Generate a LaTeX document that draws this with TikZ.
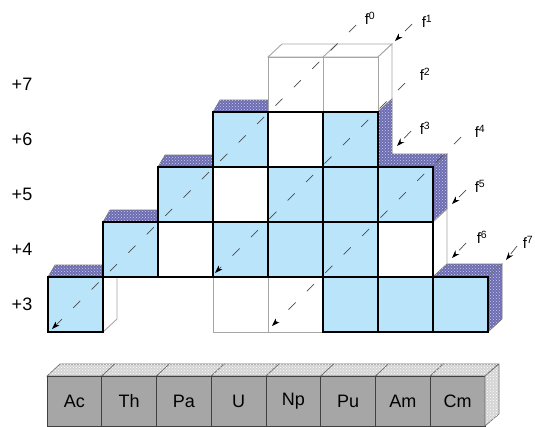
\documentclass[tikz,border=0pt]{standalone}
\usepackage{fontspec}
\setmainfont{Liberation Sans}
\usetikzlibrary{arrows.meta, patterns}
\definecolor{cellblue}{RGB}{186,228,250}
\definecolor{slabblue}{RGB}{108,108,178}
\definecolor{slabdot}{RGB}{205,205,240}
\definecolor{stripgray}{RGB}{166,166,166}
\definecolor{striptop}{RGB}{212,212,212}

\begin{document}
\begin{tikzpicture}[
        x=1pt,
        y=-1pt,
        font=\fontsize{18}{21}\selectfont,
        cell/.style={minimum size=55pt, inner sep=0pt, outer sep=0pt},
        bluecell/.style={cell, draw=black, line width=1.4pt, fill=cellblue},
        whitecell/.style={cell, draw=black, line width=1.4pt, fill=white},
        ghostcell/.style={cell, draw=black!35, line width=0.9pt, fill=white},
        slab/.style={draw=black!55, line width=0.6pt, fill=slabblue,
            postaction={pattern=crosshatch dots, pattern color=slabdot}},
        ghostface/.style={draw=black!35, line width=0.9pt, fill=white},
        elem/.style={draw=black!75, line width=0.8pt, fill=stripgray,
            minimum width=54.75pt, minimum height=50pt, inner sep=0pt, outer sep=0pt},
        stripface/.style={draw=black!60, line width=0.6pt, fill=striptop,
            postaction={pattern=crosshatch dots, pattern color=white}},
        flabel/.style={font=\fontsize{15}{17}\selectfont, inner sep=1pt},
        orbit/.style={draw=black!70, line width=0.7pt, dash pattern=on 10pt off 16pt,
            -{Stealth[length=8pt, width=5.5pt, black]}}
    ]
        \useasboundingbox (0,0) rectangle (535,426);
        \clip (0,0) rectangle (535,426);

        % element strip
        \foreach \el [count=\i from 0] in {Ac,Th,Pa,U,Np,Pu,Am,Cm} {
            \pgfmathsetmacro\xa{47+54.75*\i}
            \filldraw[stripface] (\xa,376) -- ++(54.75,0) -- ++(13,-12) -- ++(-54.75,0) -- cycle;
            \node[elem] (\el) at (\xa+27.375,401) {\el};
        }
        \filldraw[stripface] (485,376) -- (499,364) -- (499,414) -- (485,426) -- cycle;

        % oxidation states
        \foreach \r in {3,...,7}
            \node (ox\r) at (22,{304.5-55*(\r-3)}) {+\r};

        % faces behind the cells
        \foreach \c/\r in {0/3,1/4,2/5,3/6}
            \filldraw[slab] ({48+55*\c},{277-55*(\r-3)}) -- ++(55,0) -- ++(7,-12) -- ++(-55,0) -- cycle;
        \filldraw[ghostface] (103,277) -- (117,264) -- (117,319) -- (103,332) -- cycle;
        \filldraw[ghostface] (268,57) -- (378,57) -- (392,44) -- (282,44) -- cycle;
        \draw[ghostface] (323,57) -- (337,44);
        \filldraw[ghostface] (378,57) -- (392,44) -- (392,99) -- (378,112) -- cycle;
        \filldraw[slab] (378,112) -- (392,99) -- (392,154) -- (447,154) -- (433,167) -- (378,167) -- cycle;
        \filldraw[slab] (433,167) -- (447,154) -- (447,209) -- (433,222) -- cycle;
        \filldraw[ghostface] (433,222) -- (447,209) -- (447,264) -- (433,277) -- cycle;
        \filldraw[slab] (433,277) -- (488,277) -- (502,264) -- (447,264) -- cycle;
        \filldraw[slab] (488,277) -- (502,264) -- (502,319) -- (488,332) -- cycle;

        % cells
        \foreach \el/\c/\r in {U/3/3, Np/4/3, Np/4/7, Pu/5/7}
            \node[ghostcell] (\el\r) at ({75.5+55*\c},{304.5-55*(\r-3)}) {};
        \foreach \el/\c/\r in {Pa/2/4, U/3/5, Np/4/6, Am/6/4}
            \node[whitecell] (\el\r) at ({75.5+55*\c},{304.5-55*(\r-3)}) {};
        \foreach \el/\c/\r in {Ac/0/3, Th/1/4, Pa/2/5, U/3/6, U/3/4, Np/4/5, Np/4/4,
                Pu/5/6, Pu/5/5, Pu/5/4, Pu/5/3, Am/6/5, Am/6/3, Cm/7/3}
            \node[bluecell] (\el\r) at ({75.5+55*\c},{304.5-55*(\r-3)}) {};

        % f levels
        \node[flabel] (f0) at (370,18) {f\textsuperscript{0}};
        \node[flabel] (f1) at (427,21) {f\textsuperscript{1}};
        \node[flabel] (f2) at (425,74) {f\textsuperscript{2}};
        \node[flabel] (f3) at (425,128) {f\textsuperscript{3}};
        \node[flabel] (f4) at (480,131) {f\textsuperscript{4}};
        \node[flabel] (f5) at (480,186) {f\textsuperscript{5}};
        \node[flabel] (f6) at (482,237) {f\textsuperscript{6}};
        \node[flabel] (f7) at (528,242) {f\textsuperscript{7}};

        \coordinate (a0) at (356,25);  \coordinate (b0) at (52,329);
        \coordinate (a1) at (412,24);  \coordinate (b1) at (395,41);
        \coordinate (a2) at (405,83);  \coordinate (b2) at (215,273);
        \coordinate (a3) at (411,131); \coordinate (b3) at (397,146);
        \coordinate (a4) at (461,137); \coordinate (b4) at (272,326);
        \coordinate (a5) at (466,190); \coordinate (b5) at (452,204);
        \coordinate (a6) at (466,243); \coordinate (b6) at (452,258);
        \coordinate (a7) at (517,246); \coordinate (b7) at (506,260);
        \foreach \k in {0,...,7}
            \draw[orbit] (a\k) -- (b\k);
    \end{tikzpicture}
\end{document}
